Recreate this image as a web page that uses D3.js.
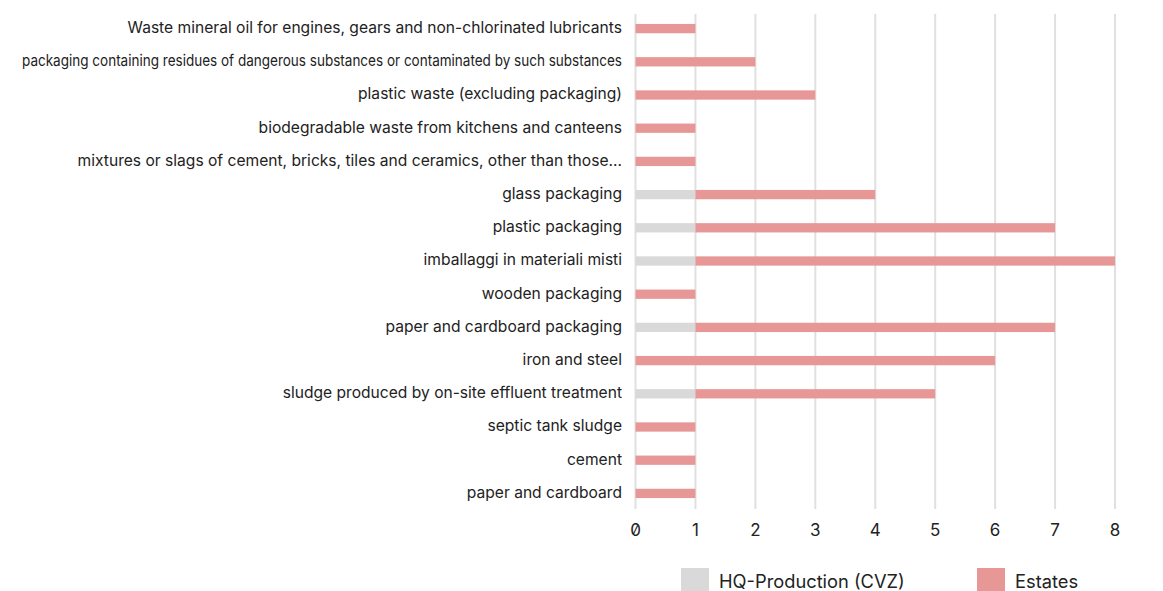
<!DOCTYPE html>
<html>
<head>
<meta charset="utf-8">
<script src="https://cdn.jsdelivr.net/npm/d3@7"></script>
<style>
  html, body { margin: 0; padding: 0; background: #fff; }
  svg { display: block; font-family: Inter, "Noto Sans", sans-serif; }
</style>
</head>
<body>
<svg id="chart" width="1163" height="591"></svg>
<script>
// Waste types, top to bottom
const categories = [
  "Waste mineral oil for engines, gears and non-chlorinated lubricants",
  "packaging containing residues of dangerous substances or contaminated by such substances",
  "plastic waste (excluding packaging)",
  "biodegradable waste from kitchens and canteens",
  "mixtures or slags of cement, bricks, tiles and ceramics, other than those...",
  "glass packaging",
  "plastic packaging",
  "imballaggi in materiali misti",
  "wooden packaging",
  "paper and cardboard packaging",
  "iron and steel",
  "sludge produced by on-site effluent treatment",
  "septic tank sludge",
  "cement",
  "paper and cardboard"
];
const seriesNames = ["HQ-Production (CVZ)", "Estates"];
const hqProduction = [0, 0, 0, 0, 0, 1, 1, 1, 0, 1, 0, 1, 0, 0, 0];
const estates      = [1, 2, 3, 1, 1, 3, 6, 7, 1, 6, 6, 4, 1, 1, 1];
const xTicks = [0, 1, 2, 3, 4, 5, 6, 7, 8];
const colors = ["#d9d9d9", "#e89797"];

const svg = d3.select("#chart");

const x = d3.scaleLinear().domain([0, 8]).range([635.5, 1115]);
const y = d3.scaleBand().domain(categories).range([12, 510]).paddingInner(0.72).paddingOuter(0.36);

// Vertical gridlines
svg.append("g")
  .selectAll("line")
  .data(xTicks)
  .join("line")
  .attr("x1", d => x(d)).attr("x2", d => x(d))
  .attr("y1", 14).attr("y2", 509)
  .attr("stroke", "#e0e0e0")
  .attr("stroke-width", 2);

// Stacked bars
const rows = categories.map((c, i) => ({ c, v: [hqProduction[i], estates[i]] }));
const stack = d3.stack().keys([0, 1]).value((d, k) => d.v[k]);
const layers = stack(rows);

svg.append("g")
  .selectAll("g")
  .data(layers)
  .join("g")
  .attr("fill", (d, i) => colors[i])
  .selectAll("rect")
  .data(d => d)
  .join("rect")
  .attr("x", d => x(d[0]))
  .attr("width", d => x(d[1]) - x(d[0]))
  .attr("y", d => y(d.data.c))
  .attr("height", y.bandwidth());

// Category labels
const labels = svg.append("g")
  .selectAll("text")
  .data(categories)
  .join("text")
  .attr("x", 622)
  .attr("y", d => y(d) + y.bandwidth() / 2 - 1)
  .attr("dy", "0.35em")
  .attr("text-anchor", "end")
  .attr("fill", "#222")
  .style("font-size", "15.6px")
  .text(d => d);
// The longest label is squeezed to fit the margin
labels.filter((d, i) => i === 1)
  .attr("textLength", 600)
  .attr("lengthAdjust", "spacingAndGlyphs");

// X axis tick labels
svg.append("g")
  .selectAll("text")
  .data(xTicks)
  .join("text")
  .attr("x", d => x(d))
  .attr("y", 530)
  .attr("dy", "0.35em")
  .attr("text-anchor", "middle")
  .attr("fill", "#222")
  .style("font-size", "17px")
  .style("font-feature-settings", "'zero' 1")
  .text(d => d);

// Legend
const legendX = [681, 977];
const legend = svg.append("g")
  .selectAll("g")
  .data(seriesNames)
  .join("g")
  .attr("transform", (d, i) => `translate(${legendX[i]},568)`);
legend.append("rect")
  .attr("width", 28).attr("height", 23)
  .attr("fill", (d, i) => colors[i]);
legend.append("text")
  .attr("x", 38).attr("y", 14)
  .attr("dy", "0.35em")
  .attr("fill", "#222")
  .style("font-size", "18.3px")
  .text(d => d);
</script>
</body>
</html>
